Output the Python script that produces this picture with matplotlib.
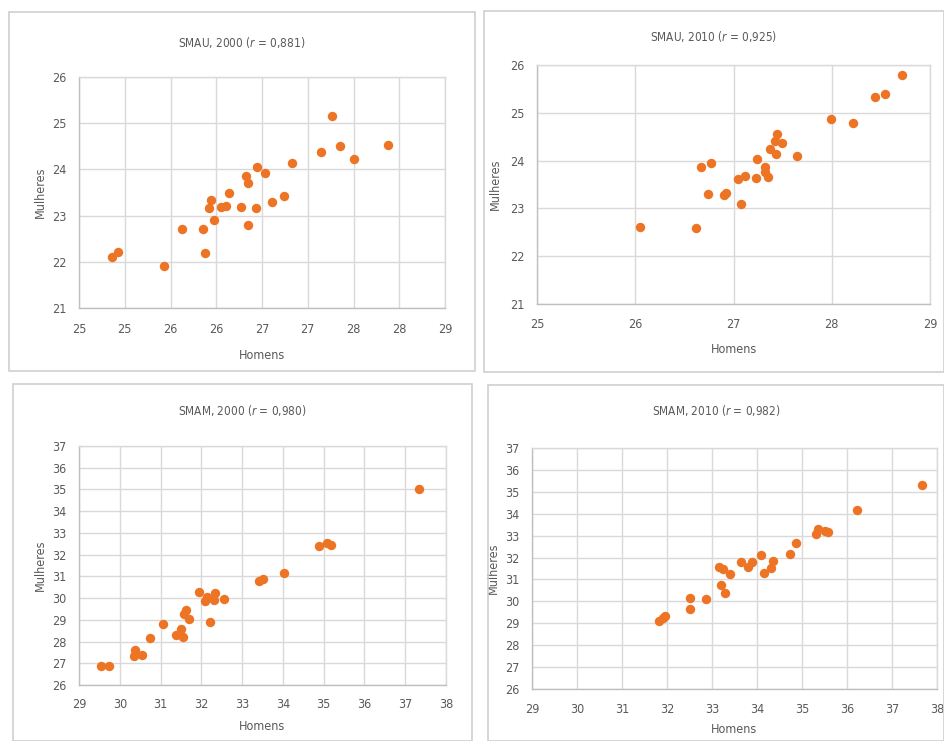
import matplotlib.pyplot as plt
from matplotlib.patches import Rectangle

# SMAU 2000
smau00_h = [24.86, 24.93, 25.43, 25.63, 25.85, 25.88, 25.94, 25.92, 25.97, 26.05,
            26.11, 26.14, 26.27, 26.32, 26.35, 26.35, 26.43, 26.45, 26.53, 26.61,
            26.74, 26.83, 27.15, 27.27, 27.35, 27.51, 27.88]
smau00_m = [22.11, 22.21, 21.90, 22.71, 22.71, 22.20, 23.34, 23.17, 22.91, 23.18,
            23.21, 23.49, 23.18, 23.85, 23.70, 22.79, 23.16, 24.06, 23.92, 23.30,
            23.43, 24.13, 24.38, 25.15, 24.51, 24.22, 24.53]

# SMAU 2010
smau10_h = [26.05, 26.62, 26.67, 26.77, 26.74, 26.90, 26.92, 27.05, 27.12, 27.08,
            27.23, 27.24, 27.32, 27.32, 27.35, 27.37, 27.42, 27.44, 27.43, 27.49,
            27.65, 27.99, 28.22, 28.44, 28.54, 28.72]
smau10_m = [22.62, 22.60, 23.87, 23.96, 23.30, 23.27, 23.32, 23.61, 23.68, 23.09,
            23.63, 24.03, 23.86, 23.77, 23.66, 24.25, 24.40, 24.56, 24.13, 24.36,
            24.10, 24.86, 24.79, 25.34, 25.39, 25.80]

# SMAM 2000
smam00_h = [29.54, 29.74, 30.34, 30.38, 30.55, 30.73, 31.07, 31.37, 31.49, 31.55,
            31.62, 31.58, 31.70, 31.94, 32.09, 32.15, 32.21, 32.30, 32.33, 32.55,
            33.42, 33.52, 34.03, 34.88, 35.09, 35.18, 37.35]
smam00_m = [26.89, 26.89, 27.34, 27.61, 27.38, 28.18, 28.81, 28.30, 28.60, 28.23,
            29.45, 29.25, 29.04, 30.30, 29.87, 30.07, 28.92, 29.91, 30.22, 29.96,
            30.79, 30.87, 31.17, 32.40, 32.52, 32.46, 35.02]

# SMAM 2010
smam10_h = [31.82, 31.90, 31.95, 32.50, 32.50, 32.87, 33.16, 33.24, 33.21, 33.29,
            33.40, 33.64, 33.80, 33.89, 34.09, 34.16, 34.32, 34.36, 34.74, 34.86,
            35.31, 35.36, 35.51, 35.58, 36.23, 37.67]
smam10_m = [29.09, 29.24, 29.34, 30.15, 29.65, 30.11, 31.55, 31.49, 30.76, 30.36,
            31.23, 31.79, 31.55, 31.78, 32.10, 31.29, 31.51, 31.86, 32.17, 32.66,
            33.07, 33.32, 33.23, 33.18, 34.17, 35.33]

titles = ["SMAU, 2000 ($\\it{r}$ = 0,881)", "SMAU, 2010 ($\\it{r}$ = 0,925)",
          "SMAM, 2000 ($\\it{r}$ = 0,980)", "SMAM, 2010 ($\\it{r}$ = 0,982)"]

# eixos
xt_smau00 = [24.5, 25, 25.5, 26, 26.5, 27, 27.5, 28, 28.5]
xl_smau00 = ['25', '25', '26', '26', '27', '27', '28', '28', '29']
xt_smau10 = [25, 26, 27, 28, 29]
yt_smau = [21, 22, 23, 24, 25, 26]
xt_smam = list(range(29, 39))
yt_smam = list(range(26, 38))

plt.rcParams['font.family'] = ['DejaVu Sans']
plt.rcParams['font.stretch'] = 'condensed'

ORANGE = '#EC7424'
GRAY_TXT = '#595959'
GRID = '#d9d9d9'
FS = 9

fig = plt.figure(figsize=(9.44, 7.41), dpi=100)

# caixas dos graficos (px)
W, H = 944, 741
boxes = [(9, 12, 475, 371), (484, 11, 944, 372), (13, 384, 472, 741), (488, 385, 944, 741)]
for x0, y0, x1, y1 in boxes:
    fig.patches.append(Rectangle((x0 / W, 1 - y1 / H), (x1 - x0) / W, (y1 - y0) / H,
                                 transform=fig.transFigure, fill=False,
                                 edgecolor='#d0d0d0', lw=1.2))

# areas de plotagem (px)
areas = [(79, 77, 445, 308), (537, 65, 930, 304), (79, 446, 446, 685), (532, 448, 937, 689)]
data = [(smau00_h, smau00_m), (smau10_h, smau10_m), (smam00_h, smam00_m), (smam10_h, smam10_m)]
xticks = [xt_smau00, xt_smau10, xt_smam, xt_smam]
yticks = [yt_smau, yt_smau, yt_smam, yt_smam]
title_y = [42, 37, 410, 410]
xpad = [11, 10, 9, 10]
xlpad = [9, 9, 7, 5]
ylpad = [4, 6, 4, 4]

for i, (x0, y0, x1, y1) in enumerate(areas):
    ax = fig.add_axes([x0 / W, 1 - y1 / H, (x1 - x0) / W, (y1 - y0) / H])
    h, m = data[i]
    ax.scatter(h, m, s=46, color=ORANGE, zorder=3, linewidths=0)
    ax.set_xlim(xticks[i][0], xticks[i][-1])
    ax.set_ylim(yticks[i][0], yticks[i][-1])
    ax.set_xticks(xticks[i])
    ax.set_yticks(yticks[i])
    if i == 0:
        ax.set_xticklabels(xl_smau00)
    ax.grid(True, color=GRID, lw=1)
    ax.set_axisbelow(True)
    for sp in ax.spines.values():
        sp.set_color(GRID)
        sp.set_linewidth(1)
    ax.spines['bottom'].set_color('#bfbfbf')
    ax.spines['left'].set_color('#bfbfbf')
    ax.tick_params(length=0, labelsize=FS, labelcolor=GRAY_TXT, pad=9)
    ax.tick_params(axis='x', pad=xpad[i])
    ax.set_xlabel('Homens', fontsize=FS, color=GRAY_TXT, labelpad=xlpad[i])
    ax.set_ylabel('Mulheres', fontsize=FS, color=GRAY_TXT, labelpad=ylpad[i])
    cx = (boxes[i][0] + boxes[i][2]) / 2
    fig.text(cx / W, 1 - title_y[i] / H, titles[i], ha='center', va='center',
             fontsize=8.5, color=GRAY_TXT)

fig.savefig('out.png', dpi=100)
